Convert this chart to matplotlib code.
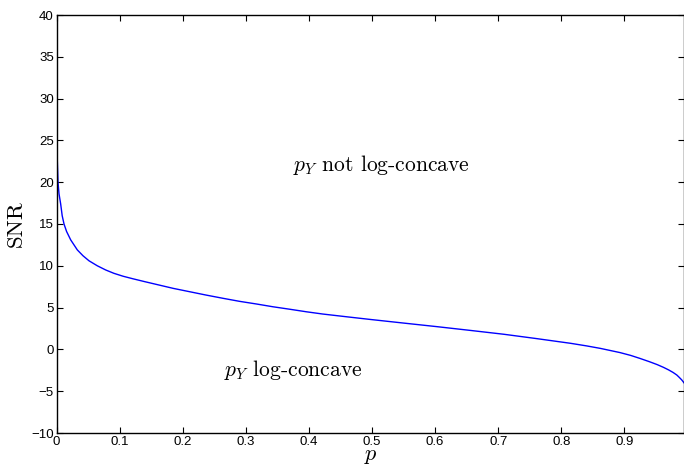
import numpy as np
import matplotlib
matplotlib.use("Agg")
import matplotlib.pyplot as plt

plt.rcParams['mathtext.fontset'] = 'cm'
plt.rcParams['axes.unicode_minus'] = True

# Data
p_vals = [0.00002, 0.0001, 0.0003, 0.0006, 0.0013, 0.0024, 0.0040, 0.0066, 0.0090,
          0.0119, 0.016, 0.0225, 0.033, 0.042, 0.0515, 0.0647, 0.078, 0.091,
          0.1056, 0.121, 0.14, 0.158, 0.185, 0.211, 0.237, 0.264, 0.29, 0.317,
          0.343, 0.370, 0.396, 0.422, 0.46, 0.4976, 0.55, 0.603, 0.656, 0.709,
          0.76, 0.8146, 0.84, 0.862, 0.893, 0.91, 0.9247, 0.94, 0.952, 0.962,
          0.970, 0.977, 0.983, 0.987, 0.991, 0.995]
snr_vals = [40.0, 33.0, 27.0, 24.0, 22.5, 20.0, 18.6, 17.4, 16.0,
            15.0, 14.1, 13.1, 11.9, 11.2, 10.6, 10.0, 9.5, 9.1,
            8.75, 8.45, 8.1, 7.78, 7.3, 6.9, 6.5, 6.11, 5.75, 5.43,
            5.1, 4.80, 4.5, 4.23, 3.9, 3.58, 3.15, 2.72, 2.27, 1.81,
            1.3, 0.73, 0.42, 0.12, -0.38, -0.72, -1.08, -1.48, -1.82, -2.15,
            -2.45, -2.75, -3.06, -3.35, -3.66, -4.05]

xticks = [0, 0.1, 0.2, 0.3, 0.4, 0.5, 0.6, 0.7, 0.8, 0.9]
xtick_labels = ['0', '0.1', '0.2', '0.3', '0.4', '0.5', '0.6', '0.7', '0.8', '0.9']
yticks = [-10, -5, 0, 5, 10, 15, 20, 25, 30, 35, 40]

fig = plt.figure(figsize=(6.84, 4.65), dpi=100)
ax = fig.add_axes([56.5 / 684, 32 / 465, (0.995 * 631) / 684, 418 / 465])

ax.plot(p_vals, snr_vals, color='#0000ff', lw=1.0)

ax.set_xlim(0, 0.995)
ax.set_ylim(-10, 40)
ax.set_xticks(xticks)
ax.set_xticklabels(xtick_labels)
ax.set_yticks(yticks)

for lab in ax.get_xticklabels() + ax.get_yticklabels():
    lab.set_fontfamily('Liberation Sans')
    lab.set_fontsize(9.5)

ax.tick_params(direction='in', length=4, width=0.8, top=True, right=True,
               pad=2, colors='black')
for s in ax.spines.values():
    s.set_linewidth(1.0)
    s.set_color('black')

ax.set_xlabel(r'$p$', fontsize=16, labelpad=-1)
ax.set_ylabel('SNR', fontfamily='cmr10', fontsize=16.5, labelpad=4)

ax.text(0.375, 22.0, r'$p_Y$' + ' not log-concave', fontfamily='cmr10',
        fontsize=15.5, ha='left', va='center')
ax.text(0.265, -2.5, r'$p_Y$' + ' log-concave', fontfamily='cmr10',
        fontsize=15.5, ha='left', va='center')

fig.savefig('out.png', dpi=100)
